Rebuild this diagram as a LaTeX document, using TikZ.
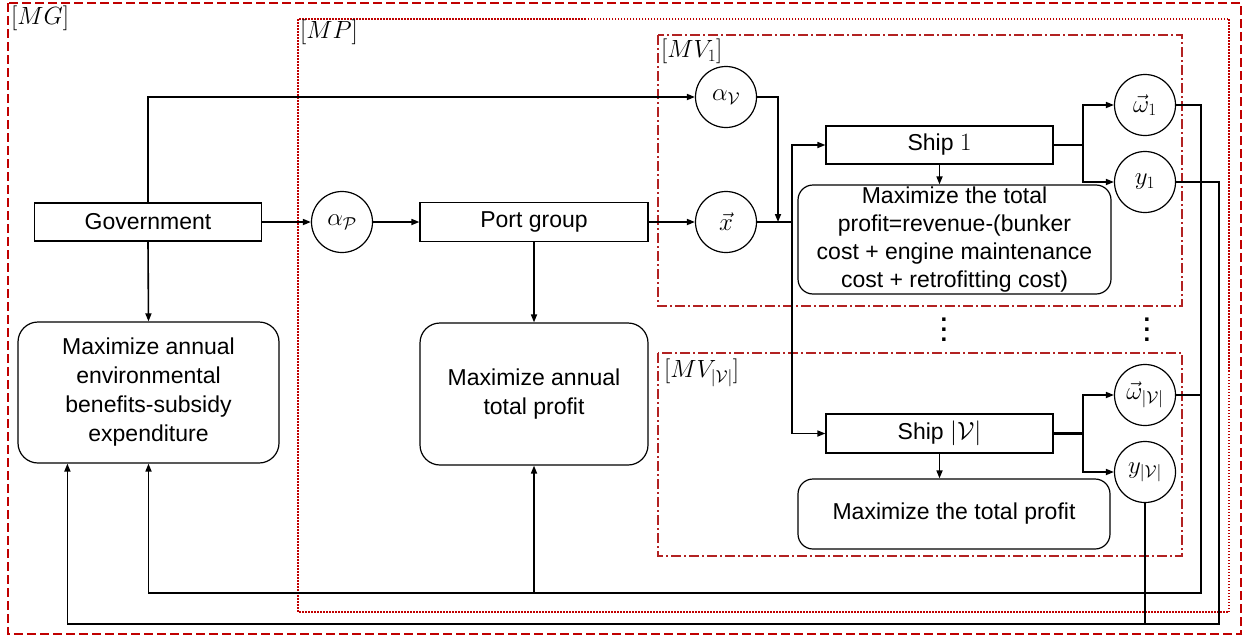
\documentclass[tikz,border=0pt]{standalone}
\usepackage{fontspec}
\setmainfont{Liberation Sans}
\usetikzlibrary{arrows.meta,calc}
\definecolor{dred}{RGB}{192,0,0}
\definecolor{mred}{RGB}{178,34,34}
\newcommand\tallvdots{\vbox{\baselineskip=10pt\lineskiplimit=0pt\hbox{.}\hbox{.}\hbox{.}}}
\begin{document}
\begin{tikzpicture}[x=1pt,y=-1pt,
  txt/.style={font=\fontsize{23}{29}\selectfont},
  sq/.style={draw, line width=1.2pt, inner sep=0pt, txt},
  rbox/.style={draw, line width=1.2pt, rounded corners=20pt, inner sep=0pt, align=center, txt},
  circ/.style={draw, circle, line width=1.2pt, minimum size=61pt, inner sep=0pt, font=\fontsize{25}{28}\selectfont},
  conn/.style={line width=1.6pt},
  thick conn/.style={line width=2.2pt},
  arr/.style={conn, -{Triangle[length=8pt,width=6pt]}},
  lbl/.style={anchor=north west, inner sep=0pt, font=\fontsize{25}{28}\selectfont},
  dotsty/.style={inner sep=0pt, font=\bfseries\fontsize{24}{10}\selectfont},
  mgbox/.style={draw=dred, line width=1.5pt, dash pattern=on 9pt off 4pt},
  mpbox/.style={draw=dred, line width=1.2pt, dash pattern=on 1.5pt off 1.5pt},
  mvbox/.style={draw=mred, line width=1.4pt, dash pattern=on 10pt off 3pt on 2pt off 3pt},
]
\useasboundingbox (0,0) rectangle (1244,637);

% containers
\draw[mgbox] (8,3) rectangle (1241,634);
\draw[mpbox] (298,19) rectangle (1229,612);
\draw[mvbox] (658,35) rectangle (1182,306);
\draw[mvbox] (658,353) rectangle (1182,556);

\node[lbl] (lMG) at (11,6) {$[MG]$};
\node[lbl] (lMP) at (300,20) {$[MP]$};
\node[lbl] (lMV1) at (661,39) {$[MV_1]$};
\node[lbl] (lMVV) at (664,359) {$[MV_{|\mathcal{V}|}]$};

% nodes
\node[sq, minimum width=227pt, minimum height=38pt] (gov) at (148,222) {Government};
\node[rbox, minimum width=261pt, minimum height=141pt] (govmax) at (148.5,392.5) {Maximize annual\\environmental\\benefits-subsidy\\expenditure};
\node[circ] (aP) at (342,222) {$\alpha_{\mathcal{P}}$};
\node[sq, minimum width=228pt, minimum height=39pt] (port) at (534,222) {Port group};
\node[rbox, minimum width=228pt, minimum height=142pt] (portmax) at (534,394) {Maximize annual\\total profit};
\node[circ] (aV) at (726,97) {$\alpha_{\mathcal{V}}$};
\node[circ] (xv) at (726,222) {$\vec{x}$};
\node[sq, minimum width=227pt, minimum height=38pt] (ship1) at (939.5,145) {Ship $1$};
\node[rbox, rounded corners=15pt, minimum width=313pt, minimum height=109pt, font=\fontsize{23}{28.3}\selectfont] (max1) at (954.5,239.5) {Maximize the total\\profit=revenue-(bunker\\cost + engine maintenance\\cost + retrofitting cost)};
\node[circ] (w1) at (1145,105) {$\vec{\omega}_1$};
\node[circ] (y1) at (1145,182) {$y_1$};
\node[sq, minimum width=227pt, minimum height=39pt] (shipV) at (939.5,433.5) {Ship $|\mathcal{V}|$};
\node[rbox, rounded corners=15pt, minimum width=312pt, minimum height=70pt] (maxV) at (954,514) {Maximize the total profit};
\node[circ] (wV) at (1145,395) {$\vec{\omega}_{|\mathcal{V}|}$};
\node[circ] (yV) at (1145,472) {$y_{|\mathcal{V}|}$};
\node[dotsty] (d1) at (944,330) {\tallvdots};
\node[dotsty] (d2) at (1147,330) {\tallvdots};

% junction coordinates
\coordinate (jx) at (778,222);
\coordinate (bus) at (792,222);
\coordinate (s1) at (1083,145);
\coordinate (sV) at (1083,433.5);
\coordinate (r1) at (1201,593);
\coordinate (r2) at (1219,624);
\coordinate (g2) at ([xshift=50pt]govmax.south west);

% connectors
\draw[arr] (gov.north) |- (aV.west);
\draw[arr] (gov.east) -- (aP.west);
\draw[arr] (aP.east) -- (port.west);
\draw[arr] (gov.south) -- (govmax.north);
\draw[arr] (port.south) -- (portmax.north);
\draw[arr] (port.east) -- (xv.west);
\draw[arr] (aV.east) -| (jx);
\draw[conn] (xv.east) -- (bus);
\draw[arr] (bus) |- (ship1.west);
\draw[arr] (bus) |- (shipV.west);
\draw[arr] (ship1.south) -- (ship1.south |- max1.north);
\draw[arr] (shipV.south) -- (shipV.south |- maxV.north);
\draw[thick conn] (ship1.east) -- (s1);
\draw[arr] (s1) |- (w1.west);
\draw[arr] (s1) |- (y1.west);
\draw[thick conn] (shipV.east) -- (sV);
\draw[arr] (sV) |- (wV.west);
\draw[arr] (sV) |- (yV.west);
\draw[arr] (w1.east) -| (r1) -| (govmax.south);
\draw[conn] (wV.east) -- (wV.east -| r1);
\draw[arr] (portmax.south |- r1) -- (portmax.south);
\draw[arr] (y1.east) -| (r2) -| (g2);
\draw[conn] (yV.south) -- (yV.south |- r2);
\end{tikzpicture}
\end{document}
